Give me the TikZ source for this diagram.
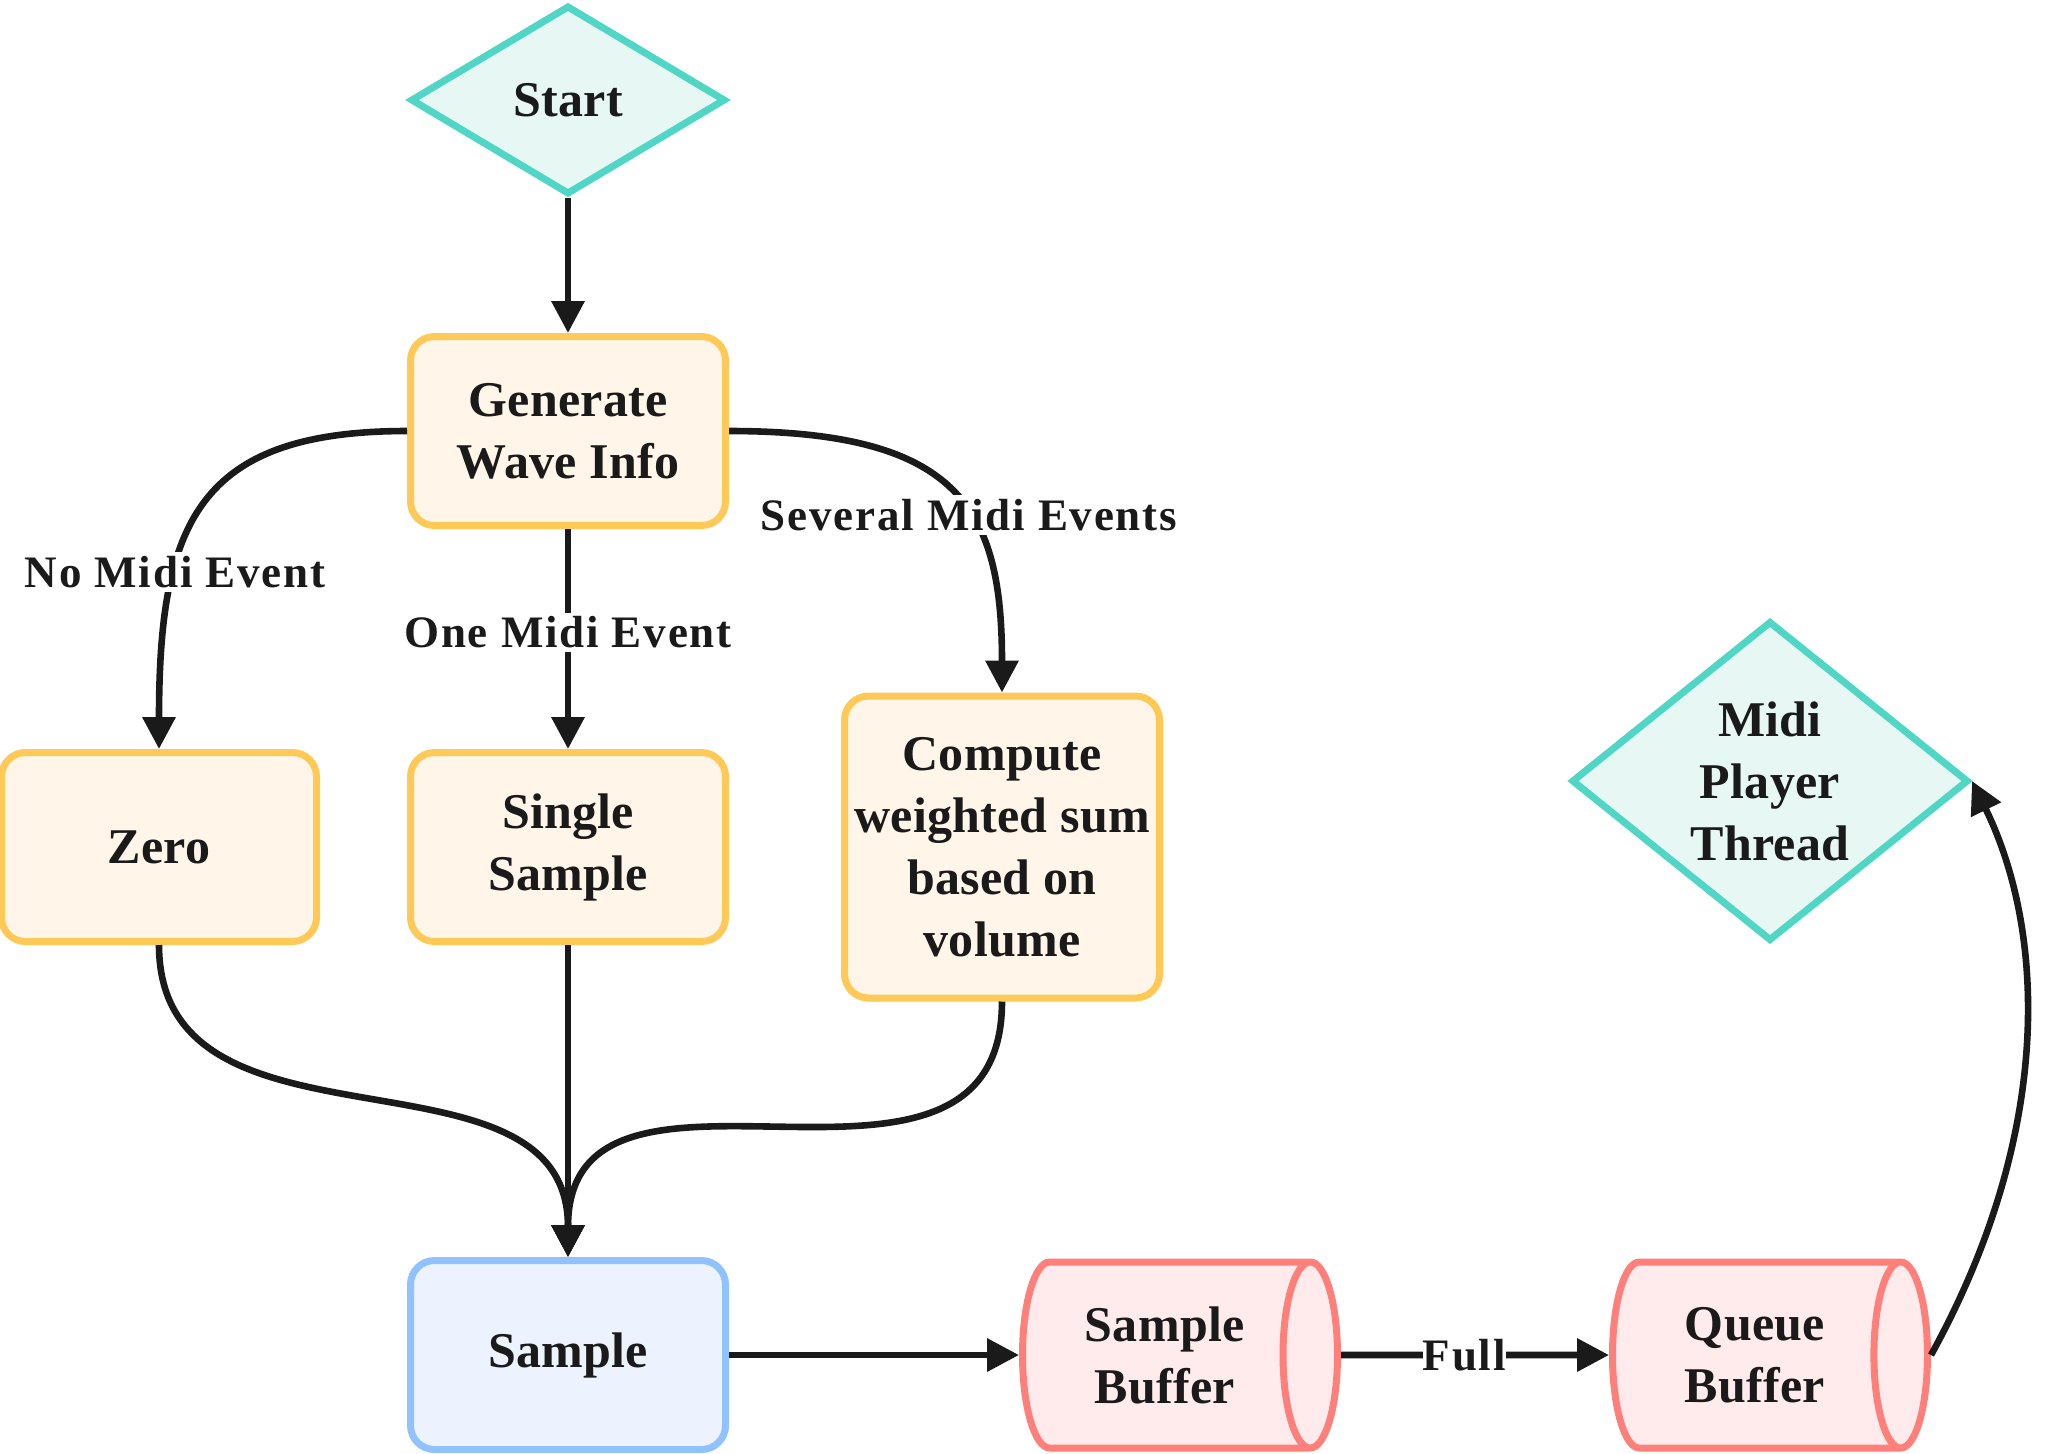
\documentclass[tikz,border=0pt]{standalone}
\usepackage{fontspec}
\setmainfont{Liberation Serif}[LetterSpace=0.5]
\newfontfamily\lblfont{Liberation Serif}[LetterSpace=4]
\usetikzlibrary{shapes.geometric,arrows.meta}
\definecolor{txt}{HTML}{1A1A1A}
\definecolor{orb}{HTML}{FFC957}
\definecolor{orf}{HTML}{FFF5E9}
\definecolor{tlb}{HTML}{4FD6C4}
\definecolor{tlf}{HTML}{E7F7F4}
\definecolor{blb}{HTML}{90C2FF}
\definecolor{blf}{HTML}{ECF3FF}
\definecolor{rdb}{HTML}{FF807A}
\definecolor{rdf}{HTML}{FFEBEB}
\tikzset{
  base/.style={font=\fontsize{25}{31}\selectfont\bfseries, text=txt, align=center, line width=3.5pt, inner sep=0pt},
  procbox/.style={base, rectangle, rounded corners=12pt, draw=orb, fill=orf, minimum width=157.5pt, minimum height=94.5pt},
  samplebox/.style={base, rectangle, rounded corners=12pt, draw=blb, fill=blf, minimum width=157.5pt, minimum height=94.5pt},
  decision/.style={base, diamond, draw=tlb, fill=tlf},
  store/.style={base, cylinder, draw=rdb, fill=rdf, shape aspect=0.56, minimum height=157.5pt, minimum width=93pt, anchor=shape center},
  conn/.style={draw=txt, line width=3.3pt, -{Triangle[length=16pt,width=16pt]}},
  lbl/.style={font=\lblfont\fontsize{22.5}{26}\selectfont\bfseries, text=txt, fill=white, inner sep=2pt}
}
\begin{document}
\begin{tikzpicture}[x=0.5pt,y=-0.5pt]
\useasboundingbox (0,0) rectangle (2056,1453);
\node[decision, aspect=1.667, minimum width=157.5pt, minimum height=94.5pt] (start) at (568,100) {Start};
\node[procbox] (gwi) at (568,431) {Generate\\Wave Info};
\node[procbox] (zero) at (159,847) {Zero};
\node[procbox] (single) at (568,847) {Single\\Sample};
\node[procbox, minimum height=151pt] (comp) at (1002,847) {Compute\\weighted sum\\based on\\volume};
\node[samplebox] (sample) at (568,1355) {Sample};
\node[store] (sbuf) at (1180,1355) {Sample\\Buffer};
\node[store] (qbuf) at (1770,1355) {Queue\\Buffer};
\node[decision, aspect=1.24, minimum width=198.5pt, minimum height=160pt] (midi) at (1770,781) {Midi\\Player\\Thread};

\draw[conn] (start.south) -- (gwi.north);
\draw[conn] (gwi.west) .. controls (197,431) and (159,524) .. node[lbl, pos=0.68] {No Midi Event} (zero.north);
\draw[conn] (gwi.south) -- node[lbl, pos=0.47] {One Midi Event} (single.north);
\draw[conn] (gwi.east) .. controls (960,431) and (1002,509) .. node[lbl, pos=0.58] {Several Midi Events} (comp.north);
\draw[conn] (zero.south) .. controls (159,1171) and (568,1032) .. (sample.north);
\draw[conn] (single.south) -- (sample.north);
\draw[conn] (comp.south) .. controls (1002,1250) and (568,1012) .. (sample.north);
\draw[conn] (sample.east) -- (sbuf.west);
\draw[conn] (sbuf.east) -- node[lbl, inner sep=0pt, pos=0.46] {Full} (qbuf.west);
\draw[conn] (qbuf.east) .. controls (2055,1130) and (2045,930) .. (midi.east);
\end{tikzpicture}
\end{document}
